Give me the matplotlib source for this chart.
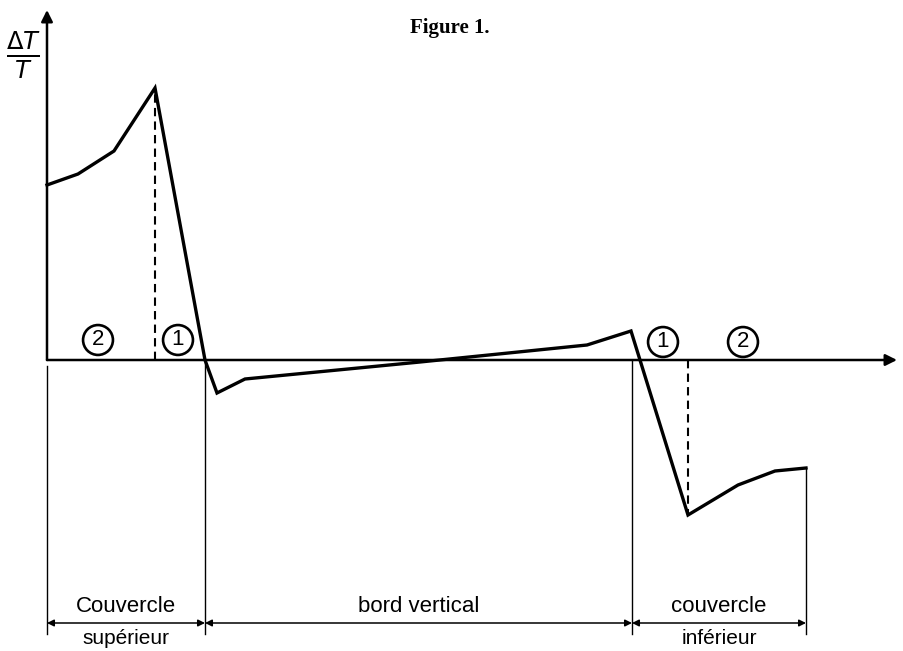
import matplotlib
matplotlib.use("Agg")
import matplotlib.pyplot as plt

# courbe deltaT/T le long de la paroi (unites)
pos = [0, 31, 67, 108, 158, 170, 198, 373, 540, 584, 593, 641, 691, 728, 759]
dTT = [1.75, 1.86, 2.09, 2.72, 0.0, -0.33, -0.19, -0.02, 0.15, 0.29, 0.0, -1.55, -1.25, -1.11, -1.08]

# limites des zones
bornes = [0, 158, 585, 759]
zones = ["Couvercle\nsupérieur", "bord vertical", "couvercle\ninférieur"]

# pieds des pointilles (pic et creux)
pic_x = [108, 641]
pic_y = [2.72, -1.55]

# reperes cercles
rep_x = [51, 131, 616, 696]
rep_y = [0.20, 0.20, 0.18, 0.18]
rep_txt = ["2", "1", "1", "2"]

fig = plt.figure(figsize=(9.04, 6.51), dpi=100)
ax = fig.add_axes([0, 0, 1, 1])
ax.set_xlim(-47, 857)
ax.set_ylim(-2.91, 3.60)
ax.axis("off")

# axes avec fleches
fl = dict(arrowstyle="-|>", lw=1.8, color="black", mutation_scale=17, shrinkA=0, shrinkB=0)
ax.annotate("", xy=(0, 3.50), xytext=(0, 0), arrowprops=fl)
ax.annotate("", xy=(850, 0), xytext=(0, 0), arrowprops=fl)

# courbe
ax.plot(pos, dTT, color="black", lw=2.4, solid_joinstyle="miter")

# pointilles
for px, py in zip(pic_x, pic_y):
    ax.plot([px, px], [0, py], color="black", lw=1.5, ls=(0, (4, 2.5)))

# traits verticaux des zones
y_bas = -2.74
ax.plot([bornes[0]] * 2, [-0.06, y_bas], color="black", lw=1.0)
ax.plot([bornes[1]] * 2, [0, y_bas], color="black", lw=1.0)
ax.plot([bornes[2]] * 2, [0, y_bas], color="black", lw=1.0)
ax.plot([bornes[3]] * 2, [dTT[-1], y_bas], color="black", lw=1.0)

# cotes
y_cote = -2.63
for i in range(3):
    ax.annotate("", xy=(bornes[i + 1], y_cote), xytext=(bornes[i], y_cote),
                arrowprops=dict(arrowstyle="<|-|>", lw=1.1, color="black", mutation_scale=10, shrinkA=0, shrinkB=0))
    xm = (bornes[i] + bornes[i + 1]) / 2
    lignes = zones[i].split("\n")
    ax.text(xm, -2.47, lignes[0], ha="center", va="center", fontsize=16, family="Liberation Sans")
    if len(lignes) > 1:
        ax.text(xm, -2.835, lignes[1], ha="center", va="baseline", fontsize=15, family="Liberation Sans")

# reperes
for x, y, t in zip(rep_x, rep_y, rep_txt):
    ax.text(x, y, t, ha="center", va="center", fontsize=16, family="Liberation Sans",
            bbox=dict(boxstyle="circle,pad=0.2", fc="white", ec="black", lw=1.9))

ax.text(-23, 3.05, r"$\frac{\Delta T}{T}$", ha="center", va="center", fontsize=25)
ax.text(403, 3.32, "Figure 1.", ha="center", va="center", fontsize=15, fontweight="bold", family="Liberation Serif")

fig.savefig("out.png", dpi=100)
